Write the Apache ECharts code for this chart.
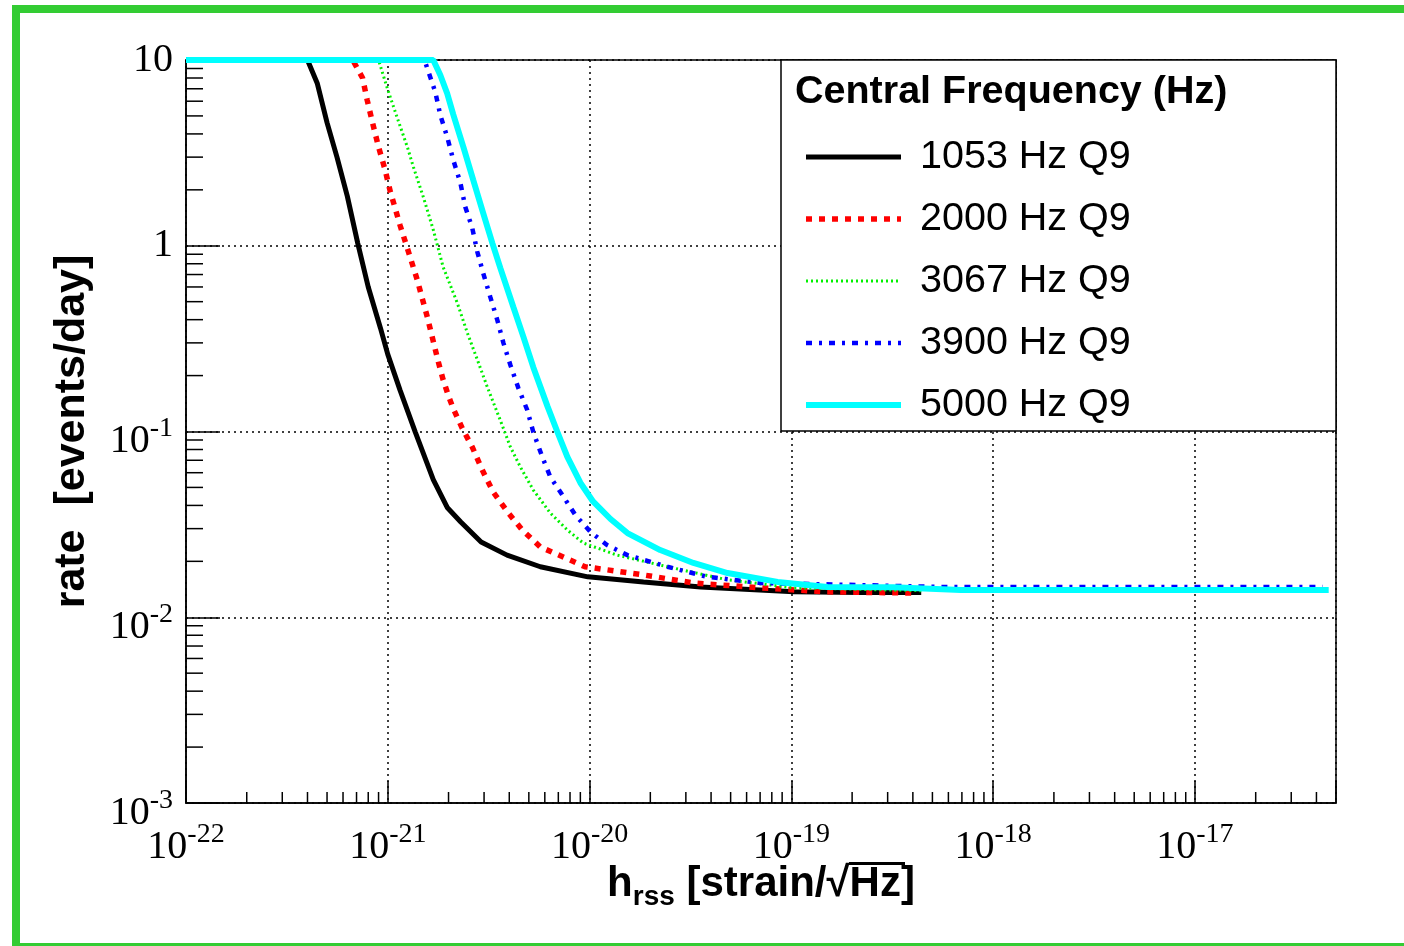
<!DOCTYPE html>
<html>
<head>
<meta charset="utf-8">
<title>rate vs hrss</title>
<script src="https://cdn.jsdelivr.net/npm/echarts@6/dist/echarts.min.js"></script>
<style>
  html, body { margin: 0; padding: 0; background: #fff; }
  #chart { width: 1404px; height: 946px; }
</style>
</head>
<body>
<div id="chart"></div>
<script>
// values: h_rss [strain/sqrt(Hz)] -> rate [events/day]
var h1053 = [1e-22, 4.0e-22, 4.47e-22, 5.0e-22, 5.6e-22, 6.3e-22, 7.1e-22, 8.0e-22, 9.2e-22, 1.0e-21, 1.15e-21, 1.37e-21,
    1.68e-21, 1.97e-21, 2.3e-21, 2.9e-21, 3.9e-21, 5.7e-21, 9.8e-21, 1.85e-20, 3.55e-20, 1.03e-19, 2.2e-19, 4.4e-19];
var rate1053 = [10, 10, 7.5, 4.6, 3.0, 1.85, 1.03, 0.60, 0.36, 0.26, 0.167, 0.099,
    0.055, 0.039, 0.0326, 0.0254, 0.0216, 0.0187, 0.0165, 0.0155, 0.01455, 0.0137, 0.0136, 0.0136];

var h2000 = [1e-22, 6.7e-22, 7.5e-22, 7.9e-22, 8.4e-22, 9.0e-22, 9.7e-22, 1.03e-21, 1.15e-21, 1.25e-21, 1.40e-21, 1.57e-21,
    1.78e-21, 1.88e-21, 2.0e-21, 2.11e-21, 2.34e-21, 2.62e-21, 2.94e-21, 3.33e-21, 3.96e-21, 4.64e-21, 5.7e-21, 7.4e-21,
    9.5e-21, 1.85e-20, 3.27e-20, 7.0e-20, 1.5e-19, 4.1e-19];
var rate2000 = [10, 10, 8.0, 6.1, 4.6, 3.4, 2.56, 1.95, 1.29, 0.97, 0.654, 0.413,
    0.237, 0.19, 0.155, 0.133, 0.104, 0.0826, 0.062, 0.0472, 0.0364, 0.0295, 0.0239, 0.0211,
    0.0187, 0.0169, 0.0153, 0.0144, 0.0137, 0.0135];

var h3067 = [1e-22, 9.0e-22, 9.9e-22, 1.11e-21, 1.25e-21, 1.34e-21, 1.50e-21, 1.68e-21, 1.88e-21, 2.21e-21, 2.48e-21, 2.78e-21,
    3.11e-21, 3.61e-21, 4.05e-21, 4.54e-21, 5.26e-21, 6.39e-21, 7.76e-21, 9.3e-21, 1.37e-20, 2.43e-20, 4.83e-20, 1.03e-19, 4.4e-19];
var rate3067 = [10, 10, 7.15, 4.94, 3.40, 2.65, 1.83, 1.22, 0.769, 0.492, 0.339, 0.243,
    0.174, 0.115, 0.0826, 0.0644, 0.0484, 0.0364, 0.0295, 0.0251, 0.0216, 0.0187, 0.0159, 0.0144, 0.0139];

var h3900 = [1e-22, 1.52e-21, 1.72e-21, 1.82e-21, 1.97e-21, 2.11e-21, 2.29e-21, 2.42e-21, 2.62e-21, 2.78e-21, 2.97e-21, 3.22e-21,
    3.49e-21, 3.74e-21, 4.05e-21, 4.44e-21, 4.91e-21, 5.26e-21, 5.83e-21, 6.39e-21, 7.33e-21, 8.5e-21, 1.01e-20, 1.22e-20,
    1.54e-20, 2.43e-20, 3.84e-20, 7.0e-20, 2.2e-19, 5.7e-19, 4.3e-17];
var rate3900 = [10, 10, 6.72, 5.06, 3.85, 2.90, 2.18, 1.62, 1.25, 0.925, 0.713, 0.530,
    0.398, 0.300, 0.228, 0.171, 0.1305, 0.0994, 0.0729, 0.0569, 0.0455, 0.0355, 0.0288, 0.0245,
    0.0216, 0.0187, 0.0165, 0.0153, 0.0149, 0.01455, 0.01455];

var h5000 = [1e-22, 1.68e-21, 1.82e-21, 1.97e-21, 2.11e-21, 2.37e-21, 2.65e-21, 2.97e-21, 3.30e-21, 3.61e-21, 4.19e-21, 4.70e-21,
    5.26e-21, 6.18e-21, 6.92e-21, 7.76e-21, 9.0e-21, 1.04e-20, 1.27e-20, 1.54e-20, 2.24e-20, 3.27e-20, 4.83e-20, 8.55e-20,
    1.51e-19, 3.2e-19, 6.9e-19, 4.6e-17];
var rate5000 = [10, 10, 8.3, 6.6, 5.1, 3.40, 2.26, 1.50, 1.03, 0.76, 0.468, 0.323,
    0.222, 0.137, 0.0997, 0.073, 0.053, 0.042, 0.0338, 0.0284, 0.0230, 0.0196, 0.0173, 0.0155,
    0.01455, 0.0145, 0.0140, 0.0140];

var seriesNames = ['1053 Hz Q9', '2000 Hz Q9', '3067 Hz Q9', '3900 Hz Q9', '5000 Hz Q9'];
var xTickExp = [-22, -21, -20, -19, -18, -17];
var yTickExp = [-3, -2, -1, 0, 1];
var minorFactors = [2, 3, 4, 5, 6, 7, 8, 9];
var xMin = 1e-22, xMax = 5e-17, yMin = 1e-3, yMax = 10;

// axes are drawn in log10 space (echarts' log axis rounds 1e-22 ticks to 0)
var lxMin = Math.log10(xMin), lxMax = Math.log10(xMax);
var lyMin = Math.log10(yMin), lyMax = Math.log10(yMax);

function pairs(h, r) {
    return h.map(function (v, i) { return [Math.log10(v), Math.log10(r[i])]; });
}

var curves = [
    {data: pairs(h1053, rate1053), color: '#000000', width: 5, type: 'solid'},
    {data: pairs(h2000, rate2000), color: '#ff0000', width: 5.5, type: [6, 7]},
    {data: pairs(h3067, rate3067), color: '#00f000', width: 3, type: [2, 3]},
    {data: pairs(h3900, rate3900), color: '#0000ff', width: 4.5, type: [6, 7, 3, 7]},
    {data: pairs(h5000, rate5000), color: '#00ffff', width: 6, type: 'solid'}
];

var xMinor = [], yMinor = [];
xTickExp.forEach(function (e) {
    minorFactors.forEach(function (k) {
        var v = e + Math.log10(k);
        if (v < lxMax) xMinor.push([v, lyMin]);
    });
});
yTickExp.forEach(function (e) {
    minorFactors.forEach(function (k) {
        var v = e + Math.log10(k);
        if (v < lyMax) yMinor.push([lxMin, v]);
    });
});

var serif = 'Liberation Serif, Times New Roman, serif';
var sans = 'Liberation Sans, Arial, Helvetica, sans-serif';
var tickRich = {
    c: {fontFamily: serif, fontSize: 40, lineHeight: 60, verticalAlign: 'middle', color: '#000'},
    b: {fontFamily: serif, fontSize: 40, lineHeight: 60, verticalAlign: 'bottom', color: '#000'},
    s: {fontFamily: serif, fontSize: 28, height: 55, verticalAlign: 'top', color: '#000'}
};

function expLabel(v, list) {
    var e = Math.round(v);
    if (Math.abs(v - e) > 1e-6 || list.indexOf(e) < 0) return '';
    if (e === 1) return '{c|10}';
    if (e === 0) return '{c|1}';
    return '{b|10}{s|' + e + '}';
}

function tickRenderer(dx, dy) {
    return function (params, api) {
        var p = api.coord([api.value(0), api.value(1)]);
        return {
            type: 'line',
            shape: {x1: p[0], y1: p[1], x2: p[0] + dx, y2: p[1] + dy},
            style: {stroke: '#000', lineWidth: 1.5}
        };
    };
}

var chart = echarts.init(document.getElementById('chart'));

var series = curves.map(function (c, i) {
    return {
        type: 'line',
        name: seriesNames[i],
        data: c.data,
        symbol: 'none',
        showSymbol: false,
        clip: false,
        z: 2 + i,
        itemStyle: {color: c.color},
        lineStyle: {color: c.color, width: c.width, type: c.type, cap: 'butt'}
    };
});
series.push({
    type: 'custom', name: 'xminor', data: xMinor, renderItem: tickRenderer(0, -11),
    silent: true, clip: false, z: 2
});
series.push({
    type: 'custom', name: 'yminor', data: yMinor, renderItem: tickRenderer(17, 0),
    silent: true, clip: false, z: 2
});

chart.setOption({
    animation: false,
    backgroundColor: '#ffffff',
    grid: {
        left: 186, right: 68, top: 60, bottom: 143,
        show: true, borderColor: '#000', borderWidth: 1.5,
        containLabel: false, outerBoundsMode: 'none'
    },
    title: {
        text: 'Central Frequency (Hz)',
        left: 795, top: 72, padding: 0, z: 6,
        textStyle: {fontFamily: sans, fontWeight: 'bold', fontSize: 39.5, color: '#000'}
    },
    legend: {
        data: seriesNames,
        orient: 'vertical',
        left: 803, top: 137, padding: 0,
        itemWidth: 95, itemHeight: 14, itemGap: 22,
        selectedMode: false, z: 5,
        itemStyle: {opacity: 0},
        lineStyle: {width: 'inherit'},
        textStyle: {fontFamily: sans, fontSize: 39.5, color: '#000', lineHeight: 40, padding: [0, 0, 0, 14]}
    },
    xAxis: {
        type: 'value',
        min: lxMin, max: lxMax, interval: 1,
        name: '{h|h}{sub|rss}{t| [strain/√Hz]}',
        nameLocation: 'middle', nameGap: 60, nameMoveOverlap: false,
        nameTextStyle: {
            rich: {
                h: {fontFamily: sans, fontWeight: 'bold', fontSize: 42, lineHeight: 48, verticalAlign: 'top', color: '#000'},
                sub: {fontFamily: sans, fontWeight: 'bold', fontSize: 28, verticalAlign: 'bottom', color: '#000'},
                t: {fontFamily: sans, fontWeight: 'bold', fontSize: 42, lineHeight: 48, verticalAlign: 'top', color: '#000'}
            }
        },
        axisLine: {show: true, onZero: false, lineStyle: {color: '#000', width: 1.5}},
        axisTick: {show: true, inside: true, length: 22, lineStyle: {color: '#000', width: 1.5}},
        splitLine: {show: true, lineStyle: {color: '#000', width: 1.5, type: [2, 4]}},
        axisLabel: {
            margin: 4, hideOverlap: false,
            formatter: function (v) { return expLabel(v, xTickExp); },
            rich: tickRich
        }
    },
    yAxis: {
        type: 'value',
        min: lyMin, max: lyMax, interval: 1,
        name: 'rate  [events/day]',
        nameLocation: 'middle', nameRotate: 90, nameGap: 92, nameMoveOverlap: false,
        nameTextStyle: {fontFamily: sans, fontWeight: 'bold', fontSize: 43, color: '#000'},
        axisLine: {show: true, onZero: false, lineStyle: {color: '#000', width: 1.5}},
        axisTick: {show: true, inside: true, length: 34, lineStyle: {color: '#000', width: 1.5}},
        splitLine: {show: true, lineStyle: {color: '#000', width: 1.5, type: [2, 4]}},
        axisLabel: {
            margin: 13, hideOverlap: false,
            formatter: function (v) { return expLabel(v, yTickExp); },
            rich: tickRich
        }
    },
    graphic: [
        {type: 'rect', shape: {x: 781, y: 60, width: 555, height: 371}, style: {fill: '#fff', stroke: '#000', lineWidth: 1.5}, z: 3},
        {type: 'rect', shape: {x: 849, y: 862, width: 56, height: 3}, style: {fill: '#000'}, z: 10},
        {type: 'rect', shape: {x: 12, y: 5, width: 1392, height: 8}, style: {fill: '#33cc33'}, z: 10},
        {type: 'rect', shape: {x: 12, y: 5, width: 8, height: 941}, style: {fill: '#33cc33'}, z: 10},
        {type: 'rect', shape: {x: 12, y: 943, width: 1392, height: 3}, style: {fill: '#33cc33'}, z: 10}
    ],
    series: series
});
</script>
</body>
</html>
